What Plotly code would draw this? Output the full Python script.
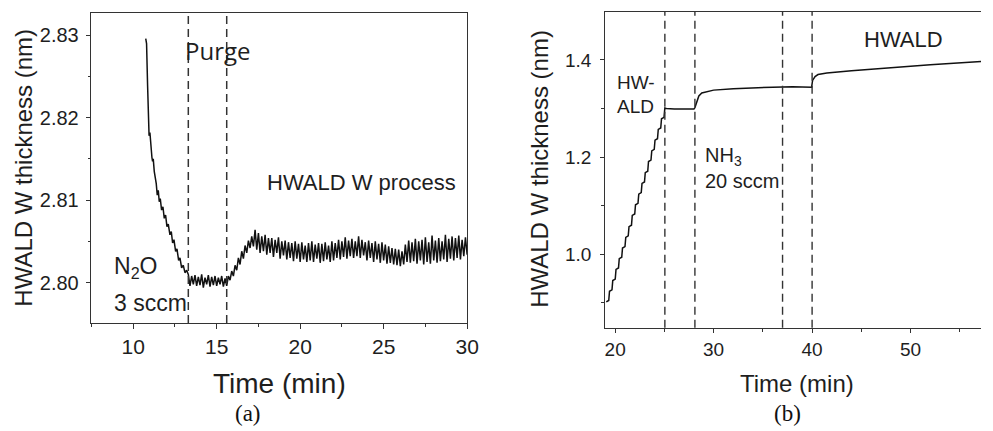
import plotly.graph_objects as go

# ---------------- data: panel (a) ----------------
decay_time = [10.75, 10.80, 10.86, 10.93, 10.95, 11.00, 11.05, 11.12, 11.16, 11.20,
              11.26, 11.32, 11.38, 11.44, 11.50, 11.56, 11.62, 11.70, 11.78, 11.86,
              11.94, 12.02, 12.10, 12.20, 12.28, 12.36, 12.44, 12.54, 12.62, 12.72,
              12.80, 12.90, 13.00, 13.10, 13.20]
decay_thick = [2.8296, 2.8290, 2.8240, 2.8190, 2.8178, 2.8182, 2.8165, 2.8152, 2.8147, 2.8150,
               2.8135, 2.8128, 2.8120, 2.8106, 2.8112, 2.8098, 2.8102, 2.8088, 2.8092, 2.8078,
               2.8082, 2.8068, 2.8071, 2.8058, 2.8062, 2.8048, 2.8052, 2.8038, 2.8041, 2.8027,
               2.8030, 2.8018, 2.8021, 2.8012, 2.8015]

noisy_start = 13.3
noisy_step = 0.1
noisy_thick = [
    2.8010, 2.7996, 2.8008, 2.7998, 2.8009, 2.7996, 2.8007, 2.7997, 2.8010, 2.7994,
    2.8006, 2.7998, 2.8009, 2.7995, 2.8007, 2.7997, 2.8008, 2.7996, 2.8006, 2.7998,
    2.8008, 2.7995, 2.8005, 2.7996, 2.8008, 2.8003, 2.8014, 2.8008, 2.8021, 2.8015,
    2.8030, 2.8022, 2.8038, 2.8029, 2.8045, 2.8036, 2.8051, 2.8042, 2.8056, 2.8044,
    2.8064, 2.8040, 2.8060, 2.8036, 2.8056, 2.8038, 2.8058, 2.8034, 2.8054, 2.8036,
    2.8054, 2.8031, 2.8052, 2.8036, 2.8055, 2.8029, 2.8050, 2.8033, 2.8051, 2.8028,
    2.8049, 2.8030, 2.8048, 2.8026, 2.8050, 2.8029, 2.8047, 2.8025, 2.8049, 2.8028,
    2.8045, 2.8025, 2.8048, 2.8027, 2.8050, 2.8025, 2.8046, 2.8029, 2.8048, 2.8024,
    2.8047, 2.8026, 2.8049, 2.8028, 2.8045, 2.8025, 2.8050, 2.8027, 2.8048, 2.8030,
    2.8052, 2.8028, 2.8050, 2.8031, 2.8055, 2.8029, 2.8051, 2.8032, 2.8053, 2.8030,
    2.8050, 2.8032, 2.8056, 2.8030, 2.8052, 2.8033, 2.8049, 2.8027, 2.8051, 2.8030,
    2.8048, 2.8025, 2.8050, 2.8028, 2.8047, 2.8024, 2.8049, 2.8027, 2.8046, 2.8023,
    2.8044, 2.8024, 2.8042, 2.8022, 2.8041, 2.8021, 2.8040, 2.8020, 2.8038, 2.8022,
    2.8046, 2.8025, 2.8051, 2.8024, 2.8049, 2.8026, 2.8053, 2.8023, 2.8050, 2.8027,
    2.8052, 2.8022, 2.8055, 2.8025, 2.8049, 2.8023, 2.8057, 2.8027, 2.8051, 2.8024,
    2.8054, 2.8026, 2.8050, 2.8028, 2.8058, 2.8025, 2.8053, 2.8029, 2.8056, 2.8027,
    2.8054, 2.8030, 2.8057, 2.8028, 2.8052, 2.8032, 2.8055, 2.8034,
]
noisy_time = [round(noisy_start + noisy_step * i, 2) for i in range(len(noisy_thick))]

left_markers = [13.3, 15.6]
left_xticks = [10, 15, 20, 25, 30]
left_yticks = [2.80, 2.81, 2.82, 2.83]

# ---------------- data: panel (b) ----------------
right_time = [19.10, 19.35, 19.43, 19.68, 19.76, 20.01, 20.09, 20.34, 20.42, 20.67,
              20.75, 21.00, 21.08, 21.33, 21.41, 21.66, 21.74, 21.99, 22.07, 22.32,
              22.40, 22.65, 22.73, 22.98, 23.06, 23.31, 23.39, 23.64, 23.72, 23.97,
              24.05, 24.30, 24.38, 24.63, 24.71, 24.96, 25.05, 25.20, 26.00, 27.00,
              28.00, 28.10, 28.30, 28.50, 28.80, 29.30, 29.80, 30.00, 32.00, 34.00,
              36.00, 38.00, 39.95, 40.05, 40.30, 40.60, 41.50, 44.00, 47.80, 52.00,
              57.20]
right_thick = [0.902, 0.905, 0.924, 0.927, 0.946, 0.949, 0.969, 0.972, 0.991, 0.994,
               1.013, 1.016, 1.035, 1.038, 1.057, 1.060, 1.080, 1.083, 1.102, 1.105,
               1.124, 1.127, 1.146, 1.149, 1.168, 1.171, 1.191, 1.194, 1.213, 1.216,
               1.235, 1.238, 1.257, 1.260, 1.279, 1.282, 1.301, 1.300, 1.299, 1.299,
               1.299, 1.302, 1.315, 1.326, 1.332, 1.335, 1.337, 1.338, 1.341, 1.343,
               1.344, 1.345, 1.344, 1.358, 1.366, 1.370, 1.373, 1.378, 1.384, 1.390,
               1.397]

right_markers = [25.05, 28.1, 37.0, 40.0]
right_xticks = [20, 30, 40, 50]
right_yticks = [1.0, 1.2, 1.4]

INK = "#1e1e1e"
SANS = "Liberation Sans, Arial, sans-serif"

fig = go.Figure()
fig.add_trace(go.Scatter(x=decay_time + noisy_time, y=decay_thick + noisy_thick,
                         mode="lines", line=dict(color="#111", width=1.5),
                         xaxis="x", yaxis="y", showlegend=False))
fig.add_trace(go.Scatter(x=right_time, y=right_thick, mode="lines",
                         line=dict(color="#111", width=1.5),
                         xaxis="x2", yaxis="y2", showlegend=False))

shapes = []
for t in left_markers:
    shapes.append(dict(type="line", xref="x", yref="y domain", x0=t, x1=t, y0=0, y1=1,
                       line=dict(color="#333", width=1.5, dash="8px,5px")))
for t in right_markers:
    shapes.append(dict(type="line", xref="x2", yref="y2 domain", x0=t, x1=t, y0=0, y1=1,
                       line=dict(color="#333", width=1.4, dash="8px,5px")))

axis_common = dict(showline=True, linecolor="#333", linewidth=1.2, ticks="outside",
                   tickcolor="#333", tickwidth=1.2, showgrid=False, zeroline=False)

fig.update_layout(
    width=993, height=431,
    margin=dict(l=0, r=0, t=0, b=0),
    paper_bgcolor="white", plot_bgcolor="white",
    shapes=shapes,
    xaxis=dict(domain=[91/993, 472.3/993], range=[7.46, 30.0], anchor="y",
               tickvals=left_xticks, ticklen=5, mirror=True,
               minor=dict(dtick=2.5, tick0=0, ticklen=3, ticks="outside", tickcolor="#333"),
               tickfont=dict(family=SANS, size=21, color=INK), **axis_common),
    yaxis=dict(domain=[1-323/431, 1-13/431], range=[2.7951, 2.8327], anchor="x",
               tickvals=left_yticks, tickformat=".2f", ticklen=4, mirror=True,
               ticklabelstandoff=3,
               minor=dict(dtick=0.005, tick0=0, ticklen=2, ticks="outside", tickcolor="#333"),
               tickfont=dict(family=SANS, size=20, color=INK), **axis_common),
    xaxis2=dict(domain=[612.3/993, 1.0], range=[19.0, 57.15], anchor="y2",
                tickvals=right_xticks, ticklen=4, mirror=True,
                minor=dict(dtick=5, tick0=0, ticklen=3, ticks="outside", tickcolor="#333"),
                tickfont=dict(family=SANS, size=19, color=INK), **axis_common),
    yaxis2=dict(domain=[1-327.7/431, 1-11.7/431], range=[0.849, 1.4994], anchor="x2",
                tickvals=right_yticks, tickformat=".1f", ticklen=4,
                ticklabelstandoff=5,
                minor=dict(dtick=0.1, tick0=0, ticklen=3, ticks="outside", tickcolor="#333"),
                tickfont=dict(family=SANS, size=19, color=INK), **axis_common),
)

def px_ann(text, x, y, size, family=SANS, xanchor="center", angle=0, color=INK):
    fig.add_annotation(text=text, xref="paper", yref="paper", x=x/993, y=1-y/431,
                       xanchor=xanchor, yanchor="middle", showarrow=False, textangle=angle,
                       font=dict(family=family, size=size, color=color))

# panel (a) texts
px_ann("HWALD W thickness (nm)", 22.5, 167.5, 24, angle=-90)
px_ann("Time (min)", 282, 383, 28)
px_ann("(a)", 250, 413, 23, family="Liberation Serif, Times New Roman, serif", color="#111")
fig.add_annotation(text="Purge", xref="x", yref="y", x=15.02, y=2.8282, showarrow=False,
                   font=dict(family="Open Sans, sans-serif", size=24, color=INK))
fig.add_annotation(text="HWALD W process", xref="x", yref="y", x=23.68, y=2.8121,
                   showarrow=False, font=dict(family=SANS, size=22, color=INK))
fig.add_annotation(text="N<sub>2</sub>O", xref="x", yref="y", x=8.70, y=2.8018,
                   xanchor="left", showarrow=False, font=dict(family=SANS, size=23, color=INK))
fig.add_annotation(text="3 sccm", xref="x", yref="y", x=8.70, y=2.79754,
                   xanchor="left", showarrow=False, font=dict(family=SANS, size=23, color=INK))

# panel (b) texts
px_ann("HWALD W thickness (nm)", 545, 169, 24, angle=-90)
px_ann("Time (min)", 807, 383, 24)
px_ann("(b)", 797, 413, 23, family="Liberation Serif, Times New Roman, serif", color="#111")
fig.add_annotation(text="HW-", xref="x2", yref="y2", x=19.94, y=1.3527, xanchor="left",
                   showarrow=False, font=dict(family=SANS, size=19, color=INK))
fig.add_annotation(text="ALD", xref="x2", yref="y2", x=19.94, y=1.3033, xanchor="left",
                   showarrow=False, font=dict(family=SANS, size=19, color=INK))
fig.add_annotation(text="NH<sub>3</sub>", xref="x2", yref="y2", x=28.96, y=1.202,
                   xanchor="left", showarrow=False, font=dict(family=SANS, size=20, color=INK))
fig.add_annotation(text="20 sccm", xref="x2", yref="y2", x=28.96, y=1.150, xanchor="left",
                   showarrow=False, font=dict(family=SANS, size=20, color=INK))
fig.add_annotation(text="HWALD", xref="x2", yref="y2", x=49.33, y=1.4412,
                   showarrow=False, font=dict(family=SANS, size=22, color=INK))

fig.write_html("out.html")
